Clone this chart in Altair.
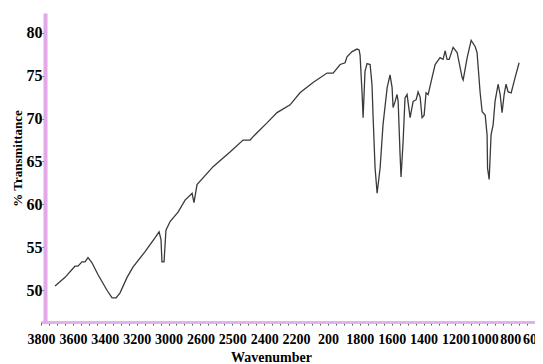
import altair as alt
import pandas as pd

wavenumber = [3712, 3649, 3587, 3568, 3543, 3524, 3505, 3480, 3442, 3386, 3354, 3329, 3304, 3260, 3223,
              3147, 3085, 3059, 3047, 3041, 3028, 3016, 2990, 2940, 2896, 2852, 2840, 2821, 2720, 2614,
              2532, 2488, 2469, 2382, 2319, 2237, 2175, 2093, 2005, 1967, 1923, 1892, 1880, 1848, 1817,
              1804, 1798, 1785, 1779, 1767, 1754, 1735, 1723, 1716, 1704, 1691, 1672, 1654, 1628, 1610,
              1597, 1591, 1578, 1566, 1559, 1547, 1541, 1528, 1516, 1503, 1484, 1465, 1446, 1434, 1421,
              1409, 1396, 1384, 1371, 1346, 1327, 1296, 1277, 1264, 1252, 1239, 1214, 1189, 1158, 1151,
              1126, 1101, 1076, 1064, 1045, 1032, 1013, 1001, 998, 988, 976, 963, 951, 932, 919,
              907, 894, 882, 869, 850, 825, 800]
transmittance = [50.5, 51.5, 52.8, 52.8, 53.3, 53.3, 53.8, 53.2, 51.8, 50.0, 49.1, 49.1, 49.7, 51.5, 52.7,
                 54.5, 56.1, 56.8, 55.9, 53.3, 53.3, 57.0, 58.0, 59.1, 60.5, 61.3, 60.2, 62.3, 64.4, 66.1,
                 67.5, 67.5, 67.9, 69.5, 70.7, 71.6, 73.0, 74.2, 75.3, 75.3, 76.3, 76.5, 77.2, 77.8, 78.1,
                 78.0, 77.4, 72.8, 70.1, 75.5, 76.4, 76.3, 73.9, 70.1, 64.3, 61.3, 64.3, 69.3, 73.6, 75.1,
                 73.6, 71.3, 72.0, 72.8, 72.0, 65.8, 63.2, 67.3, 72.4, 72.8, 70.1, 72.0, 72.2, 73.1, 72.5,
                 70.1, 70.4, 73.0, 72.8, 74.8, 76.3, 77.1, 76.9, 77.9, 76.9, 76.9, 78.3, 77.7, 74.8, 74.5,
                 77.1, 79.1, 78.4, 77.7, 73.1, 70.8, 70.4, 68.1, 64.2, 62.9, 68.1, 69.3, 72.0, 74.0, 72.8,
                 70.7, 72.8, 74.0, 73.1, 73.0, 74.8, 76.5]

x_label_values = [3800, 3600, 3400, 3200, 3000, 2800, 2600, 2400, 2200, 2000, 1800, 1600, 1400, 1200, 1000, 800, 600]
x_tick_labels = ["3800", "3600", "3400", "3200", "3000", "2600", "2500", "2400", "2200", "200",
                 "1800", "1600", "1400", "1200", "1000", "800", "600"]
x_minor_ticks = list(range(3750, 699, -50))
y_tick_values = [50, 55, 60, 65, 70, 75, 80]

df = pd.DataFrame({"wn": wavenumber, "t": transmittance, "order": list(range(len(wavenumber)))})

tick_values = sorted(set(x_label_values) | set(x_minor_ticks), reverse=True)
label_map = "{" + ",".join(f"'{v}':'{l}'" for v, l in zip(x_label_values, x_tick_labels)) + "}"
label_expr = f"{label_map}[''+datum.value] || ''"

FONT = "Liberation Serif"

chart = alt.Chart(df).mark_line(color="#3a3a3a", strokeWidth=1.3).encode(
    x=alt.X("wn:Q",
            scale=alt.Scale(domain=[3800, 600], range=[-4, 506], nice=False, zero=False),
            axis=alt.Axis(values=tick_values, labelExpr=label_expr, title="Wavenumber",
                          grid=False, domainColor="#e2b0ea", domainWidth=3,
                          tickColor="#555", tickSize=3, labelPadding=7,
                          labelFont=FONT, labelFontSize=14, labelFontWeight="bold", labelColor="#000",
                          labelFlush=False, labelOverlap=False,
                          labelOffset={"condition": [
                              {"test": "datum.value == 600", "value": -18},
                              {"test": "datum.value == 800", "value": -9},
                              {"test": "datum.value == 1000", "value": -3}], "value": 0},
                          titleFont=FONT, titleFontSize=14, titleFontWeight="bold", titleColor="#000",
                          titleX=226, titleY=35, titleBaseline="middle", titleAlign="center")),
    y=alt.Y("t:Q",
            scale=alt.Scale(domain=[46.3, 82.3], nice=False, zero=False),
            axis=alt.Axis(values=y_tick_values, title="% Transmittance",
                          grid=False, domainColor="#e2a8e8", domainWidth=4,
                          tickColor="#444", tickSize=3, labelPadding=0,
                          labelFont=FONT, labelFontSize=16, labelFontWeight="bold", labelColor="#000",
                          labelOverlap=False,
                          titleFont=FONT, titleFontSize=13, titleFontWeight="bold", titleColor="#000",
                          titleX=-28, titleY=145, titleAngle=270,
                          titleBaseline="middle", titleAlign="center")),
    order="order:Q",
).properties(
    width=490, height=309,
    autosize=alt.AutoSizeParams(type="none"),
    padding={"left": 37, "top": 5, "right": 0, "bottom": 42},
).configure_view(stroke=None)

chart.save("out.html", embed_options={"renderer": "svg", "actions": False})
